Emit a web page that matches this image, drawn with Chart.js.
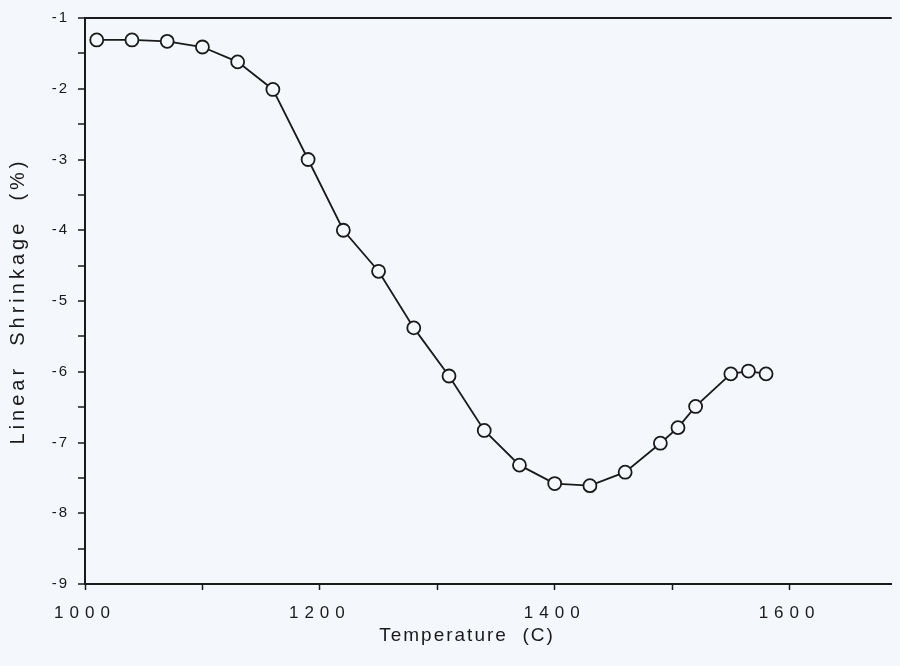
<!DOCTYPE html>
<html>
<head>
<meta charset="utf-8">
<script src="https://cdn.jsdelivr.net/npm/chart.js@4.4.1/dist/chart.umd.min.js"></script>
<style>
  body { margin: 0; background: #f4f7fb; }
  canvas { display: block; }
</style>
</head>
<body>
<canvas id="mychart" width="900" height="666"></canvas>
<script>
// temperature (C) and linear shrinkage (%)
const temperatures = [1010, 1040, 1070, 1100, 1130, 1160, 1190, 1220, 1250, 1280, 1310,
                      1340, 1370, 1400, 1430, 1460, 1490, 1505, 1520, 1550, 1565, 1580];
const shrinkage = [-1.31, -1.31, -1.33, -1.41, -1.62, -2.01, -3.0, -4.0, -4.58, -5.38, -6.06,
                   -6.83, -7.32, -7.58, -7.61, -7.42, -7.01, -6.79, -6.49, -6.03, -5.99, -6.03];
const xLabels = [1000, 1200, 1400, 1600];
const yLabels = [-1, -2, -3, -4, -5, -6, -7, -8, -9];

const ink = '#1a1a1a';
const bg = '#f4f7fb';

// letter spacing for a scale's labels (scan text is spaced out)
function spaced(scale, px) {
  if (scale._spaced) return;
  const orig = scale.drawLabels.bind(scale);
  scale.drawLabels = function (area) {
    scale.ctx.save();
    scale.ctx.letterSpacing = px;
    orig(area);
    scale.ctx.restore();
  };
  const origTitle = scale.drawTitle.bind(scale);
  scale.drawTitle = function () {
    scale.ctx.save();
    scale.ctx.letterSpacing = '4px';
    origTitle();
    scale.ctx.restore();
  };
  scale._spaced = true;
}

const xTitle = {
  id: 'xTitle',
  afterDraw(chart) {
    const ctx = chart.ctx;
    ctx.save();
    ctx.letterSpacing = '2px';
    ctx.font = '19px "Liberation Sans"';
    ctx.fillStyle = ink;
    ctx.textAlign = 'center';
    ctx.textBaseline = 'middle';
    ctx.fillText('Temperature  (C)', 467, 636);
    ctx.restore();
  }
};

const ctx = document.getElementById('mychart');
new Chart(ctx, {
  type: 'line',
  data: {
    datasets: [{
      data: temperatures.map((t, i) => ({ x: t, y: shrinkage[i] })),
      borderColor: ink,
      borderWidth: 1.8,
      tension: 0,
      pointRadius: 6.5,
      pointBorderWidth: 1.8,
      pointBorderColor: ink,
      pointBackgroundColor: bg
    }]
  },
  options: {
    responsive: false,
    animation: false,
    layout: { padding: { top: 13, right: 0, left: 0, bottom: 0 } },
    plugins: { legend: { display: false }, tooltip: { enabled: false } },
    scales: {
      x: {
        type: 'linear',
        min: 1000,
        max: 1687,
        afterBuildTicks(scale) {
          const t = [];
          for (let v = 1000; v <= 1687; v += 100) t.push({ value: v });
          scale.ticks = t;
        },
        afterFit(scale) { scale.height = 82; spaced(scale, '6px'); },
        ticks: {
          color: ink,
          padding: 13,
          maxRotation: 0,
          autoSkip: false,
          font: { family: 'Liberation Sans', size: 17 },
          callback: v => xLabels.includes(v) ? String(v) : ''
        },
        grid: {
          drawOnChartArea: false,
          tickLength: 6,
          tickColor: ink,
          tickWidth: 1.5
        },
        border: { color: ink, width: 2 }
      },
      y: {
        min: -9,
        max: -1,
        afterBuildTicks(scale) {
          const t = [];
          for (let v = -9; v <= -1; v += 0.5) t.push({ value: v });
          scale.ticks = t;
        },
        afterFit(scale) { scale.width = 85; spaced(scale, '2px'); },
        ticks: {
          color: ink,
          padding: 9,
          autoSkip: false,
          font: { family: 'Liberation Sans', size: 15 },
          callback: v => yLabels.includes(v) ? String(v) : ''
        },
        grid: {
          drawOnChartArea: true,
          color: c => (c.tick && c.tick.value === -1) ? ink : 'rgba(0,0,0,0)',
          lineWidth: 2,
          tickLength: 7,
          tickColor: ink,
          tickWidth: 1.5
        },
        border: { color: ink, width: 2 },
        title: {
          display: true,
          text: 'Linear  Shrinkage  (%)',
          color: ink,
          padding: { top: 6, bottom: 0 },
          font: { family: 'Liberation Sans', size: 20 }
        }
      }
    }
  },
  plugins: [xTitle]
});
</script>
</body>
</html>
